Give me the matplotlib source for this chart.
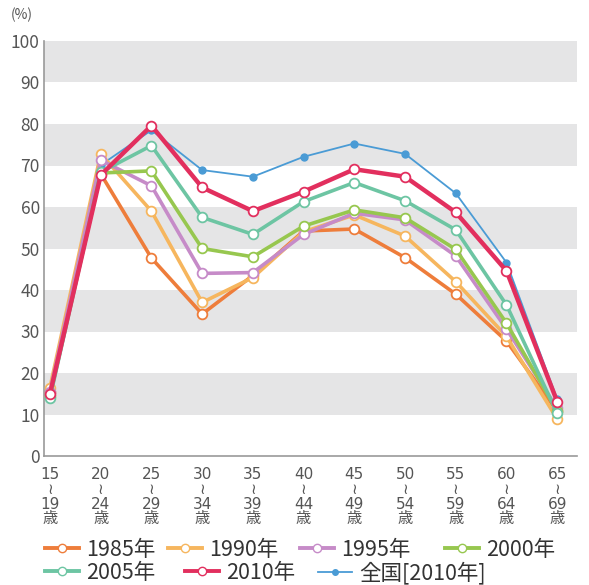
import matplotlib
matplotlib.use("Agg")
import matplotlib.pyplot as plt
from matplotlib.lines import Line2D

plt.rcParams['font.family'] = ['Noto Sans CJK JP', 'DejaVu Sans']

ages = ["15\n≀\n19\n歳", "20\n≀\n24\n歳", "25\n≀\n29\n歳", "30\n≀\n34\n歳",
        "35\n≀\n39\n歳", "40\n≀\n44\n歳", "45\n≀\n49\n歳", "50\n≀\n54\n歳",
        "55\n≀\n59\n歳", "60\n≀\n64\n歳", "65\n≀\n69\n歳"]

y1985 = [15.5, 68.0, 47.7, 34.2, 43.5, 54.2, 54.7, 47.8, 39.0, 27.7, 10.8]
y1990 = [16.5, 72.8, 59.0, 37.0, 43.0, 54.0, 58.1, 53.0, 42.0, 28.8, 8.9]
y1995 = [15.5, 71.3, 65.1, 44.0, 44.2, 53.4, 58.5, 56.9, 48.2, 30.6, 11.5]
y2000 = [14.5, 68.2, 68.7, 50.0, 48.0, 55.4, 59.3, 57.4, 49.8, 32.0, 10.8]
y2005 = [14.0, 68.4, 74.8, 57.5, 53.4, 61.3, 65.9, 61.5, 54.5, 36.4, 10.3]
y2010 = [15.0, 67.7, 79.6, 64.7, 59.0, 63.7, 69.1, 67.3, 58.7, 44.6, 13.1]
national = [13.7, 70.1, 78.5, 68.9, 67.3, 72.1, 75.3, 72.8, 63.3, 46.6, 13.7]

labels = ["1985年", "1990年", "1995年", "2000年", "2005年", "2010年", "全国[2010年]"]
colors = ["#EE7D3B", "#F6B65E", "#C68BC8", "#97C74F", "#6DC5A3", "#E22F5E", "#4A9BD5"]

fig = plt.figure(figsize=(5.89, 5.85), dpi=100)
ax = fig.add_axes([44/589, 1 - 456/585, 533/589, 415/585])

for lo in [10, 30, 50, 70, 90]:
    ax.axhspan(lo, lo + 10, color="#E5E5E6", lw=0, zorder=0)

x = list(range(len(ages)))
# national drawn first, thin with filled dots
ax.plot(x, national, color=colors[6], lw=1.3, marker="o", ms=5,
        mfc=colors[6], mec=colors[6], zorder=2)
series = [y1985, y1990, y1995, y2000, y2005, y2010]
for i, ys in enumerate(series):
    lw = 3.2 if i == 5 else 2.6
    ax.plot(x, ys, color=colors[i], lw=lw, marker="o", ms=7,
            mfc="white", mec=colors[i], mew=1.3, zorder=3 + i)

ax.set_xlim(-0.118, 10.39)
ax.set_ylim(0, 100)
ax.set_yticks(range(0, 101, 10))
ax.set_xticks(x)
ax.set_xticklabels(ages, fontsize=11, color="#555555", linespacing=0.98,
                   family=['DejaVu Sans', 'Noto Sans CJK JP'])
ax.tick_params(axis="y", length=0, labelsize=12.5, labelcolor="#555555", pad=3)
ax.tick_params(axis="x", length=0, pad=8)
for s in ["top", "right"]:
    ax.spines[s].set_visible(False)
for s in ["left", "bottom"]:
    ax.spines[s].set_color("#999999")
    ax.spines[s].set_linewidth(1.2)

fig.text(22/589, 1 - 15/585, "(%)", fontsize=10, color="#555555",
         ha="center", va="center")


def proxy(c, filled=False):
    if filled:
        return Line2D([], [], color=c, lw=1.3, marker="o", ms=4, mfc=c, mec=c)
    return Line2D([], [], color=c, lw=2.8, marker="o", ms=6, mfc="white", mec=c)


# one legend per entry so each can sit where the reference puts it
handles = [proxy(c) for c in colors[:6]] + [proxy(colors[6], True)]
xpos = [45, 168, 300, 445, 45, 185, 318]
ypos = [550, 550, 550, 550, 573, 573, 573]
for h, lab, px, py in zip(handles, labels, xpos, ypos):
    fig.legend([h], [lab], loc="center left",
               bbox_to_anchor=(px/589, 1 - py/585), frameon=False,
               fontsize=15.5, handlelength=1.6, handletextpad=0.3,
               borderaxespad=0, borderpad=0, labelcolor="#333333")

fig.savefig("out.png", dpi=100)
